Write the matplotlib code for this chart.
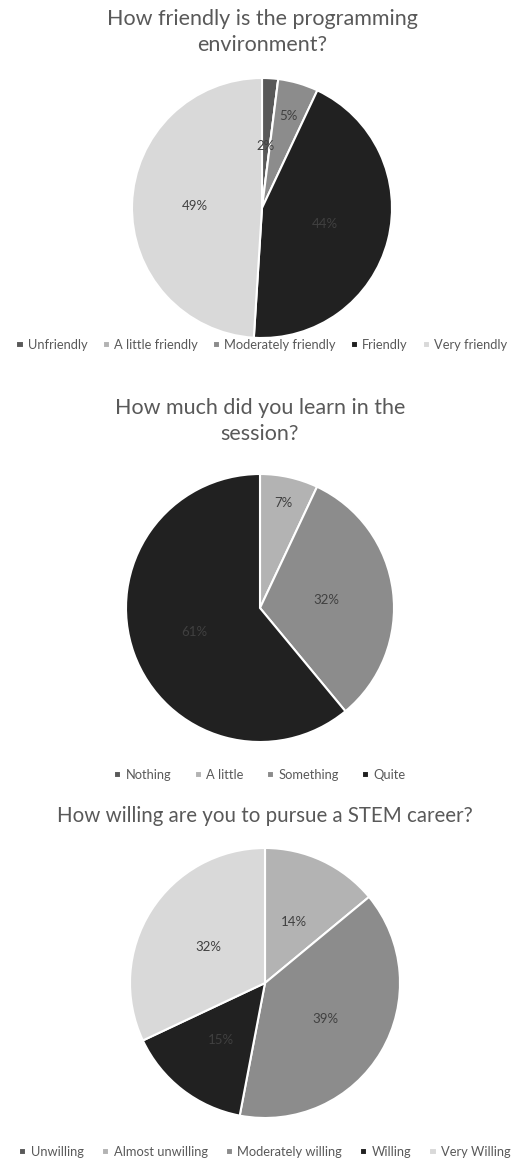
import numpy as np
import matplotlib
matplotlib.use("Agg")
import matplotlib.pyplot as plt

plt.rcParams['font.family'] = ['Lato', 'DejaVu Sans']

# ---- data ----
title1 = "How friendly is the programming\nenvironment?"
cats1 = ["Unfriendly", "A little friendly", "Moderately friendly", "Friendly", "Very friendly"]
vals1 = [2, 0, 5, 44, 49]

title2 = "How much did you learn in the\nsession?"
cats2 = ["Nothing", "A little", "Something", "Quite"]
vals2 = [0, 7, 32, 61]

title3 = "How willing are you to pursue a STEM career?"
cats3 = ["Unwilling", "Almost unwilling", "Moderately willing", "Willing", "Very Willing"]
vals3 = [0, 14, 39, 15, 32]

# ---- styles ----
cols1 = ["#595959", "#b3b3b3", "#8c8c8c", "#212121", "#d9d9d9"]
cols2 = ["#595959", "#b3b3b3", "#8c8c8c", "#212121"]
cols3 = ["#595959", "#b3b3b3", "#8c8c8c", "#212121", "#d9d9d9"]
dist1 = [0.48, 0.5, 0.74, 0.5, 0.52]
dist2 = [0.5, 0.8, 0.5, 0.52]
dist3 = [0.5, 0.5, 0.52, 0.53, 0.5]

W, H = 525, 1163
fig = plt.figure(figsize=(W / 100, H / 100), dpi=100)
TXT = "#595959"

def draw(vals, cols, cats, dists, title, cx, cy, r, title_y, leg_y, colsp, fs_title):
    ax = fig.add_axes([(cx - r) / W, (H - cy - r) / H, 2 * r / W, 2 * r / H])
    wedges, texts, autotexts = ax.pie(
        vals, colors=cols, startangle=90, counterclock=False,
        autopct=lambda p: f"{p:.0f}%" if p > 0 else "",
        wedgeprops=dict(edgecolor="white", linewidth=1.5),
        textprops=dict(color="#404040", fontsize=9.5))
    for w in wedges:
        w.set_clip_on(False)
    for w, t, d in zip(wedges, autotexts, dists):
        th = np.deg2rad((w.theta1 + w.theta2) / 2)
        t.set_position((d * np.cos(th), d * np.sin(th)))
    ax.set_xlim(-1, 1)
    ax.set_ylim(-1, 1)
    ax.set_aspect("auto")
    fig.text(cx / W, 1 - title_y / H, title, ha="center", va="top",
             fontsize=fs_title, color=TXT, linespacing=1.4)
    fig.legend(wedges, cats, loc="center", bbox_to_anchor=(cx / W, 1 - leg_y / H),
               ncol=len(cats), frameon=False, fontsize=9.3, labelcolor=TXT,
               handlelength=0.55, handleheight=0.55, handletextpad=0.35,
               columnspacing=colsp, borderaxespad=0)

draw(vals1, cols1, cats1, dist1, title1, 262, 208, 130, 9, 345, 1.15, 15.5)
draw(vals2, cols2, cats2, dist2, title2, 260, 608, 134, 398, 775, 1.8, 15.5)
draw(vals3, cols3, cats3, dist3, title3, 265, 983, 135, 806, 1152, 1.4, 14.8)

fig.savefig("out.png", dpi=100, facecolor="white")
